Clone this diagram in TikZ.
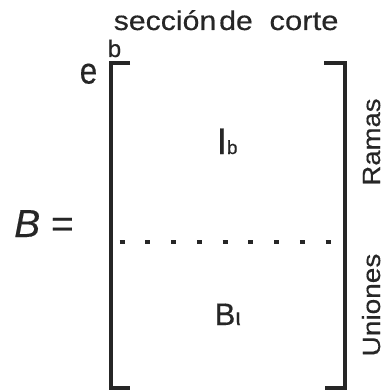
\documentclass[tikz,border=0pt]{standalone}
\usepackage{fontspec}
\setmainfont{Liberation Sans}[FakeBold=0.4]
\usepackage{graphicx}
\definecolor{ink}{HTML}{262626}
\begin{document}
\begin{tikzpicture}[x=1pt,y=-1pt,
  lbl/.style={inner sep=0pt, anchor=base, text=ink},
  brk/.style={draw=ink, line width=3.2pt, line cap=butt, line join=miter},
  sep/.style={draw=ink, line width=3.2pt, dash pattern=on 5pt off 20.75pt}]
\useasboundingbox (0,0) rectangle (385,390);
% brackets
\coordinate (LT) at (130,63);
\coordinate (LTc) at (111,63);
\coordinate (LBc) at (111,388);
\coordinate (LB) at (130,388);
\coordinate (RT) at (324,63);
\coordinate (RTc) at (345,63);
\coordinate (RBc) at (345,388);
\coordinate (RB) at (325,388);
\draw[brk] (LT) -- (LTc) -- (LBc) -- (LB);
\draw[brk] (RT) -- (RTc) -- (RBc) -- (RB);
% dotted separator
\coordinate (d1) at (119.5,242);
\coordinate (d2) at (330.5,242);
\draw[sep] (d1) -- (d2);
% top labels
\node[lbl] (sec) at (165,30) {\fontsize{27}{27}\selectfont\scalebox{1.12}[1]{sección}};
\node[lbl] (de) at (236,30) {\fontsize{27}{27}\selectfont\scalebox{1.12}[1]{de}};
\node[lbl] (corte) at (304,30) {\fontsize{27}{27}\selectfont\scalebox{1.15}[1]{corte}};
\node[lbl] (b) at (114.5,57) {\fontsize{24}{24}\selectfont b};
\node[lbl] (e) at (88.5,83.5) {\fontsize{37}{37}\selectfont\scalebox{0.85}[1]{e}};
% blocks
\node[lbl, anchor=base west] (Ib) at (216.5,154) {\fontsize{37}{37}\selectfont I\fontsize{19}{19}\selectfont b};
\node[lbl, anchor=base west] (Bl) at (214.5,325) {\fontsize{31}{31}\selectfont B\fontsize{24}{24}\selectfont ι};
% B =
\node[lbl, anchor=base west] (Beq) at (14,237) {\fontsize{39}{39}\selectfont\textit{B} =};
% side labels
\node[lbl, rotate=90] (ramas) at (380,142) {\fontsize{25}{25}\selectfont\scalebox{1.1}[1]{Ramas}};
\node[lbl, rotate=90] (uniones) at (380,305) {\fontsize{25}{25}\selectfont\scalebox{1.12}[1]{Uniones}};
\end{tikzpicture}
\end{document}
